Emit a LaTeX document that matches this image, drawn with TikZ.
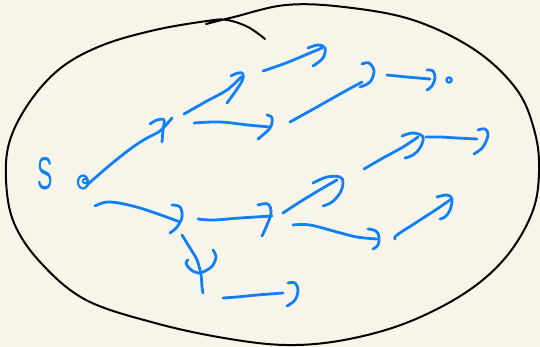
\documentclass[tikz,border=0pt]{standalone}
\usepackage{fontspec}
\setmainfont{Liberation Sans}
\definecolor{paper}{RGB}{247,245,234}
\definecolor{penblue}{RGB}{17,128,246}
\tikzset{
  ink/.style={draw=penblue, line width=2.8pt, line cap=round, line join=round},
  rim/.style={draw=black, line width=2pt, line cap=round, line join=round},
  sm/.style={smooth, tension=0.6}
}
\begin{document}
\begin{tikzpicture}[x=1pt,y=-1pt]
\fill[paper] (0,0) rectangle (540,347);
\useasboundingbox (0,0) rectangle (540,347);
% outer hand-drawn loop
\draw[rim] plot[sm] coordinates {(206,24) (234,17) (286,5) (344,7) (413,20) (475,50) (517,90) (535,133) (539,173) (532,213) (506,257) (465,293) (406,323) (344,340) (286,345) (224,338) (155,323) (86,300) (41,263) (14,223) (6,180) (10,140) (31,100) (62,67) (103,45) (155,30) (207,21) (227,20) (248,27) (265,39)};
% label S
\node[text=penblue, font=\fontsize{46}{46}\selectfont, inner sep=0pt] (s) at (45,174) {\scalebox{0.5}[1]{S}};
% source spiral
\draw[ink, line width=2.2pt] (83,182) ellipse [x radius=5, y radius=6.5];
\draw[ink, line width=2pt] (85,181) circle [radius=2.2];
% target dot
\draw[ink, line width=2.4pt] (449,80) circle [radius=2.6];
% A1
\draw[ink] plot[sm] coordinates {(87,185) (110,165) (133,147) (147,138) (160,131) (172,118)};
\draw[ink] plot[sm] coordinates {(150,124) (157,120) (164,120) (163,130) (162,142)};
% A2
\draw[ink] plot[sm] coordinates {(184,114) (207,101) (227,90) (241,77)};
\draw[ink] plot[sm] coordinates {(231,76) (238,73) (243,74) (241,83) (227,103)};
% A3
\draw[ink] plot[sm] coordinates {(263,71) (286,63) (310,53) (322,48)};
\draw[ink] plot[sm] coordinates {(308,48) (318,45) (325,48) (323,58) (313,66)};
% A4
\draw[ink] plot[sm] coordinates {(194,123) (220,122) (248,125) (270,127)};
\draw[ink] plot[sm] coordinates {(267,115) (272,118) (270,128) (258,139)};
% A5
\draw[ink] plot[sm] coordinates {(290,122) (317,107) (340,94) (362,82)};
\draw[ink] plot[sm] coordinates {(362,64) (369,63) (374,71) (370,82) (360,87)};
% A6
\draw[ink] plot[sm] coordinates {(387,75) (407,77) (430,79)};
\draw[ink] plot[sm] coordinates {(427,70) (433,71) (435,78) (432,86) (427,90)};
% A8
\draw[ink] plot[sm] coordinates {(364,169) (383,158) (403,147) (418,137)};
\draw[ink] plot[sm] coordinates {(402,136) (413,133) (423,137) (420,148) (413,155) (405,158)};
% A9
\draw[ink] plot[sm] coordinates {(426,137) (440,137) (457,138) (477,139)};
\draw[ink] plot[sm] coordinates {(478,130) (485,129) (488,135) (483,147) (474,154)};
% A10
\draw[ink] plot[sm] coordinates {(283,213) (303,200) (323,188) (337,180)};
\draw[ink] plot[sm] coordinates {(313,183) (327,177) (340,177) (343,183) (340,193) (332,202) (323,206)};
% A11
\draw[ink] plot[sm] coordinates {(95,206) (110,202) (140,208) (180,222)};
\draw[ink] plot[sm] coordinates {(172,205) (180,207) (182,217) (177,227) (170,233)};
% A12
\draw[ink] plot[sm] coordinates {(198,219) (213,220) (240,218) (272,216)};
\draw[ink] plot[sm] coordinates {(258,205) (268,204) (271,213) (267,225) (262,236)};
% A13
\draw[ink] plot[sm] coordinates {(293,225) (310,225) (337,232) (357,237) (377,239)};
\draw[ink] plot[sm] coordinates {(368,229) (376,231) (379,237) (378,245) (373,249)};
% A14
\draw[ink] plot[sm] coordinates {(395,239) (397,235) (417,222) (437,209) (450,200)};
\draw[ink] plot[sm] coordinates {(437,197) (447,195) (452,199) (450,210) (445,217) (440,219)};
% A15 (downwards)
\draw[ink] plot[sm] coordinates {(182,235) (190,248) (197,260) (201,275) (202,287) (203,293)};
\draw[ink] plot[sm] coordinates {(213,250) (216,257) (213,265) (207,270) (198,273) (190,269) (186,263) (188,260)};
% A16
\draw[ink] plot[sm] coordinates {(223,298) (237,297) (257,295) (283,293)};
\draw[ink] plot[sm] coordinates {(288,283) (295,283) (298,290) (295,300) (287,306)};
\end{tikzpicture}
\end{document}
